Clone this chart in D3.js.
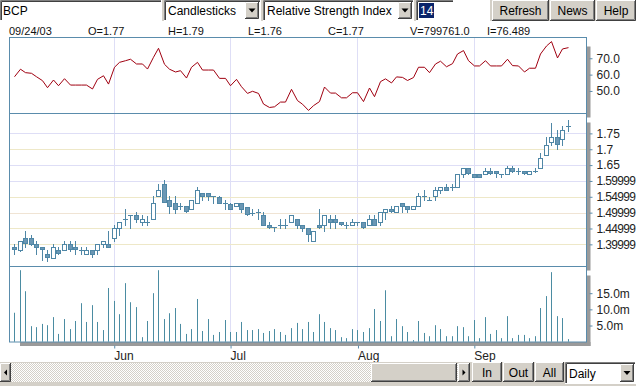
<!DOCTYPE html>
<html>
<head>
<meta charset="utf-8">
<script src="https://cdn.jsdelivr.net/npm/d3@7"></script>
<style>
  body { margin: 0; background: #fff; font-family: "Liberation Sans", Arial, sans-serif; }
  svg { display: block; }
</style>
</head>
<body>
<svg id="chart" width="636" height="386"></svg>
<script>
// ---- data ----
const symbol = "BCP";
const firstDay = new Date(2003, 4, 7);
const lastDay = new Date(2003, 8, 24);

const opens = [1.393,1.383,1.419,1.419,1.400,1.392,1.370,1.358,1.383,1.383,
  1.400,1.393,1.383,1.369,1.381,1.381,1.400,1.400,1.419,1.451,
  1.480,1.492,1.492,1.471,1.471,1.481,1.553,1.590,1.540,1.530,
  1.520,1.520,1.512,1.530,1.561,1.561,1.553,1.550,1.530,1.527,
  1.520,1.530,1.519,1.500,1.500,1.492,1.461,1.454,1.461,1.461,
  1.470,1.479,1.461,1.451,1.411,1.461,1.461,1.479,1.479,1.470,
  1.461,1.461,1.470,1.470,1.461,1.479,1.470,1.502,1.512,1.501,
  1.530,1.520,1.511,1.520,1.553,1.540,1.551,1.572,1.580,1.580,
  1.580,1.621,1.640,1.621,1.621,1.621,1.631,1.631,1.621,1.621,
  1.640,1.631,1.631,1.621,1.631,1.640,1.682,1.722,1.740,1.731,1.773];
const highs = [1.400,1.411,1.442,1.428,1.411,1.393,1.383,1.400,1.391,1.411,
  1.411,1.411,1.391,1.391,1.383,1.400,1.411,1.442,1.461,1.471,
  1.512,1.492,1.501,1.492,1.488,1.553,1.590,1.603,1.553,1.553,
  1.530,1.520,1.540,1.582,1.561,1.561,1.553,1.553,1.540,1.530,
  1.530,1.530,1.519,1.511,1.511,1.501,1.469,1.454,1.479,1.479,
  1.492,1.479,1.461,1.451,1.442,1.512,1.492,1.492,1.492,1.470,
  1.470,1.479,1.470,1.470,1.492,1.492,1.501,1.512,1.520,1.520,
  1.530,1.520,1.520,1.561,1.572,1.550,1.580,1.580,1.590,1.590,
  1.621,1.640,1.640,1.621,1.621,1.640,1.640,1.631,1.621,1.648,
  1.648,1.640,1.631,1.631,1.640,1.689,1.740,1.782,1.760,1.773,1.792];
const lows = [1.370,1.380,1.391,1.398,1.369,1.351,1.349,1.358,1.369,1.383,
  1.380,1.369,1.369,1.369,1.361,1.369,1.391,1.393,1.411,1.428,
  1.461,1.451,1.471,1.461,1.461,1.481,1.553,1.532,1.500,1.500,
  1.513,1.501,1.512,1.530,1.540,1.540,1.530,1.530,1.511,1.511,
  1.520,1.501,1.494,1.492,1.479,1.461,1.451,1.442,1.451,1.451,
  1.470,1.450,1.442,1.409,1.411,1.451,1.442,1.451,1.451,1.461,
  1.451,1.461,1.461,1.451,1.461,1.461,1.461,1.479,1.501,1.501,
  1.501,1.501,1.511,1.520,1.540,1.540,1.540,1.561,1.572,1.572,
  1.580,1.611,1.621,1.611,1.611,1.621,1.621,1.611,1.611,1.621,
  1.629,1.621,1.621,1.621,1.629,1.640,1.682,1.713,1.700,1.713,1.758];
const closes = [1.385,1.409,1.403,1.402,1.393,1.385,1.361,1.391,1.372,1.400,
  1.385,1.385,1.382,1.383,1.370,1.400,1.411,1.393,1.451,1.471,
  1.481,1.492,1.481,1.481,1.471,1.530,1.572,1.532,1.522,1.513,
  1.520,1.505,1.540,1.572,1.553,1.553,1.549,1.530,1.530,1.513,
  1.530,1.513,1.496,1.500,1.501,1.461,1.454,1.454,1.461,1.461,
  1.492,1.461,1.451,1.433,1.442,1.454,1.492,1.472,1.472,1.463,
  1.461,1.470,1.470,1.454,1.479,1.461,1.501,1.512,1.505,1.520,
  1.522,1.512,1.520,1.553,1.553,1.540,1.572,1.580,1.572,1.580,
  1.621,1.640,1.624,1.613,1.613,1.631,1.624,1.624,1.621,1.640,
  1.631,1.631,1.624,1.631,1.631,1.671,1.713,1.740,1.715,1.760,1.773];
// volume in millions
const volumes = [8.95,22.1,15.6,4.8,4.5,5.5,5.1,7.6,2.4,7.0,
  3.9,6.4,11.9,6.1,11.3,6.1,3.6,16.6,12.6,8.5,
  18.1,12.2,10.7,1.4,6.4,15.0,22.1,7.0,8.8,10.4,
  5.5,2.4,3.9,13.2,3.3,7.0,2.1,3.0,6.7,3.0,
  3.0,6.1,3.6,3.6,3.9,2.7,3.3,3.9,3.0,2.1,
  4.2,5.8,3.9,6.1,3.0,8.5,6.1,4.2,3.6,1.4,
  1.1,3.9,3.6,3.0,4.2,10.1,6.4,15.9,1.7,7.0,
  4.8,3.0,0.5,6.4,2.7,1.7,5.1,3.9,1.7,1.7,
  4.8,4.5,1.7,6.7,1.1,7.6,2.4,3.6,1.1,7.9,
  1.1,2.1,2.1,1.1,1.7,10.4,14.1,21.5,7.9,7.3,0.8];
const rsi = [58.7,63.3,61.2,60.8,58.7,56.3,52.0,56.7,53.2,57.5,
  53.6,53.6,53.6,53.6,51.2,57.1,59.3,54.2,64.5,67.5,
  68.5,69.4,66.5,66.5,63.4,70.6,76.1,66.3,63.3,61.6,
  62.4,57.9,64.5,67.5,62.8,62.8,62.8,57.7,57.7,53.2,
  57.1,52.6,48.5,49.8,48.5,42.0,39.9,40.3,43.2,43.2,
  51.0,44.1,41.9,38.1,41.0,43.5,52.4,48.7,48.7,45.8,
  45.8,48.9,48.9,43.5,51.8,46.5,55.7,57.4,54.9,58.6,
  58.3,56.4,58.2,64.5,64.5,61.2,66.5,68.2,64.8,66.7,
  72.6,74.7,68.5,65.3,65.3,68.5,65.3,65.3,65.3,69.4,
  65.5,65.3,61.6,63.9,63.9,72.6,77.5,80.2,70.2,75.7,76.5];

const rsiTicks = [70, 60, 50];
const priceTicks = [1.75, 1.7, 1.65, 1.6, 1.55, 1.5, 1.45, 1.4];
const priceTickLabels = ["1.75", "1.7", "1.65", "1.59999", "1.54999", "1.49999", "1.44999", "1.39999"];
const volumeTicks = [15, 10, 5];
const infoLabels = ["09/24/03", "O=1.77", "H=1.79", "L=1.76", "C=1.77", "V=799761.0", "I=76.489"];

// trading days (weekdays)
const dates = d3.timeDays(firstDay, d3.timeDay.offset(lastDay, 1))
  .filter(d => d.getDay() !== 0 && d.getDay() !== 6);
const monthStarts = dates.map((d, i) => i).filter(i => i > 0 && dates[i].getMonth() !== dates[i - 1].getMonth());

// ---- layout ----
const svg = d3.select("#chart");
const left = 9.5, right = 586.5;
const rsiTop = 37.5, priceTop = 113.5, volTop = 266.5, volBottom = 342;
const frameColor = "#5a8cac";
const candleColor = "#4f87a6";
const gray = "#d4d0c8";

const x = d3.scalePoint().domain(d3.range(dates.length)).range([14.7, 568.3]);
const cx = i => Math.floor(x(i)) + 0.5;

const yRsi = d3.scaleLinear().domain([36.7, 82.7]).range([112.7, 37.5]);
const yPrice = d3.scaleLinear().domain([1.3317, 1.8143]).range([266, 113]);
const yVol = d3.scaleLinear().domain([0, 23.4]).range([341.7, 266]);

// checker pattern for scrollbar track
const defs = svg.append("defs");
const pat = defs.append("pattern").attr("id", "checker").attr("width", 2).attr("height", 2)
  .attr("patternUnits", "userSpaceOnUse");
pat.append("rect").attr("width", 2).attr("height", 2).attr("fill", "#fff");
pat.append("rect").attr("width", 1).attr("height", 1).attr("fill", gray);
pat.append("rect").attr("x", 1).attr("y", 1).attr("width", 1).attr("height", 1).attr("fill", gray);

// ---- shadows of the panels ----
const shadow = "#9a9a9a";
[[rsiTop, priceTop], [priceTop, volTop], [volTop, volBottom]].forEach(([t, b]) => {
  svg.append("rect").attr("x", right).attr("y", t + 9).attr("width", 4).attr("height", b - t - 5)
    .attr("fill", shadow);
});
svg.append("rect").attr("x", 20).attr("y", volBottom).attr("width", right + 4 - 20).attr("height", 4)
  .attr("fill", shadow);

// ---- grid lines ----
const grid = svg.append("g");
monthStarts.forEach(i => {
  grid.append("line").attr("x1", cx(i)).attr("x2", cx(i)).attr("y1", rsiTop).attr("y2", volBottom)
    .attr("stroke", "#dedef6");
});
const gridColors = ["#dedef6", "#eee8c8", "#dedef6", "#dedef6", "#eee8c8", "#f0e4d4", "#eee8c8", "#eee8c8"];
priceTicks.forEach((p, i) => {
  const yy = Math.round(yPrice(p)) + 0.5;
  grid.append("line").attr("x1", left).attr("x2", right).attr("y1", yy).attr("y2", yy)
    .attr("stroke", gridColors[i]);
});

// ---- panel frames ----
const frames = svg.append("g").attr("fill", "none").attr("stroke", frameColor);
frames.append("rect").attr("x", left).attr("y", rsiTop).attr("width", right - left).attr("height", volBottom - rsiTop);
frames.append("line").attr("x1", left).attr("x2", right).attr("y1", priceTop).attr("y2", priceTop);
frames.append("line").attr("x1", left).attr("x2", right).attr("y1", volTop).attr("y2", volTop);

// ---- RSI line ----
svg.append("path")
  .datum(rsi)
  .attr("fill", "none")
  .attr("stroke", "#a00010")
  .attr("stroke-width", 1)
  .attr("d", d3.line().x((d, i) => cx(i)).y(d => yRsi(d)));

// ---- candles ----
const candles = svg.append("g").selectAll("g")
  .data(dates.map((d, i) => ({ i, o: opens[i], h: highs[i], l: lows[i], c: closes[i] })))
  .enter().append("g");

candles.append("line")
  .attr("x1", d => cx(d.i)).attr("x2", d => cx(d.i))
  .attr("y1", d => Math.round(yPrice(d.h))).attr("y2", d => Math.round(yPrice(d.l)) + 1)
  .attr("stroke", candleColor);

candles.each(function (d) {
  const g = d3.select(this);
  const top = Math.round(yPrice(Math.max(d.o, d.c)));
  const bot = Math.round(yPrice(Math.min(d.o, d.c)));
  if (bot - top < 2) {
    g.append("line")
      .attr("x1", cx(d.i) - 2.5).attr("x2", cx(d.i) + 2.5)
      .attr("y1", top + 0.5).attr("y2", top + 0.5)
      .attr("stroke", candleColor);
  } else {
    g.append("rect")
      .attr("x", cx(d.i) - 2).attr("y", top + 0.5)
      .attr("width", 4).attr("height", bot - top)
      .attr("fill", d.c < d.o ? "#6b97b4" : "#fff")
      .attr("stroke", candleColor);
  }
});

// ---- volume ----
svg.append("g").selectAll("line")
  .data(volumes)
  .enter().append("line")
  .attr("x1", (d, i) => cx(i)).attr("x2", (d, i) => cx(i))
  .attr("y1", yVol(0)).attr("y2", d => yVol(d))
  .attr("stroke", "#4b8ca2");

// ---- axes ----
function styleAxis(g) {
  g.select(".domain").remove();
  g.selectAll(".tick line").attr("stroke", frameColor);
  g.selectAll("text").attr("fill", "#222").style("font-size", "12px")
    .style("font-family", "'Liberation Sans', Arial, sans-serif");
}

svg.append("g").attr("transform", "translate(589.5,0)")
  .call(d3.axisRight(yRsi).tickValues(rsiTicks).tickSize(3).tickPadding(4).tickFormat(d3.format(".1f")))
  .call(styleAxis);

const priceAxis = svg.append("g").attr("transform", "translate(589.5,0)")
  .call(d3.axisRight(yPrice).tickValues(priceTicks).tickSize(3).tickPadding(4)
    .tickFormat((d, i) => priceTickLabels[i]))
  .call(styleAxis);
// long labels run into the window edge: squeeze them a little so they fit
priceAxis.selectAll("text").filter(t => t < 1.62).style("letter-spacing", "-0.65px");

svg.append("g").attr("transform", "translate(589.5,0)")
  .call(d3.axisRight(yVol).tickValues(volumeTicks).tickSize(3).tickPadding(4)
    .tickFormat(d => d.toFixed(1) + "m"))
  .call(styleAxis);

const xAxis = svg.append("g").attr("transform", "translate(0,345.5)")
  .call(d3.axisBottom(d3.scaleLinear().domain([0, dates.length - 1]).range([cx(0), cx(dates.length - 1)]))
    .tickValues(monthStarts).tickSize(3).tickFormat(i => d3.timeFormat("%b")(dates[i])))
  .call(styleAxis);
xAxis.selectAll("text").attr("text-anchor", "start").attr("x", -0.5).attr("dy", 0).attr("y", 14);

// ---- info row ----
const infoX = [9, 88, 168, 248, 328, 410, 487];
svg.append("g").selectAll("text")
  .data(infoLabels)
  .enter().append("text")
  .attr("x", (d, i) => infoX[i]).attr("y", 35)
  .style("font-size", "11px").attr("fill", "#111")
  .text(d => d);

// ---- toolbar ----
function bevel(g, x0, y0, w, h) {
  g.append("rect").attr("x", x0).attr("y", y0).attr("width", w).attr("height", h).attr("fill", gray);
  g.append("path").attr("d", `M${x0 + 0.5},${y0 + h}V${y0 + 0.5}H${x0 + w}`).attr("stroke", "#fff").attr("fill", "none");
  g.append("path").attr("d", `M${x0 + 1},${y0 + h - 1.5}H${x0 + w - 1.5}V${y0 + 1}`).attr("stroke", "#808080").attr("fill", "none");
  g.append("path").attr("d", `M${x0},${y0 + h - 0.5}H${x0 + w - 0.5}V${y0}`).attr("stroke", "#404040").attr("fill", "none");
}
function field(g, x0, y0, w, h) {
  g.append("rect").attr("x", x0).attr("y", y0).attr("width", w).attr("height", h).attr("fill", "#fff");
  g.append("path").attr("d", `M${x0 + 0.5},${y0 + h}V${y0 + 0.5}H${x0 + w}`).attr("stroke", "#808080").attr("fill", "none");
  g.append("path").attr("d", `M${x0 + 1.5},${y0 + h - 1}V${y0 + 1.5}H${x0 + w - 1}`).attr("stroke", "#404040").attr("fill", "none");
  g.append("path").attr("d", `M${x0},${y0 + h - 0.5}H${x0 + w - 0.5}V${y0}`).attr("stroke", "#fff").attr("fill", "none");
}
function arrowButton(g, x0, y0, w, h, dir) {
  bevel(g, x0, y0, w, h);
  const mx = x0 + w / 2, my = y0 + h / 2;
  const d = dir === "down" ? `M${mx - 3.5},${my - 2}H${mx + 3.5}L${mx},${my + 2}Z`
    : dir === "left" ? `M${mx + 1.5},${my - 3}V${my + 3}L${mx - 1.5},${my}Z`
    : `M${mx - 1.5},${my - 3}V${my + 3}L${mx + 1.5},${my}Z`;
  g.append("path").attr("d", d).attr("fill", "#000");
}
function label(g, x0, y0, txt, anchor) {
  g.append("text").attr("x", x0).attr("y", y0).attr("text-anchor", anchor || "start")
    .style("font-size", "12px").attr("fill", "#000").text(txt);
}

const bar = svg.append("g");
bar.append("rect").attr("width", 636).attr("height", 21).attr("fill", gray);
field(bar, 0, 0, 162, 21);
label(bar, 3, 15, symbol);
field(bar, 164, 0, 97, 21);
label(bar, 168, 15, "Candlesticks");
arrowButton(bar, 245, 2, 14, 17, "down");
field(bar, 263, 0, 151, 21);
label(bar, 267, 15, "Relative Strength Index");
arrowButton(bar, 398, 2, 14, 17, "down");
field(bar, 416, 0, 38, 21);
bar.append("rect").attr("x", 419).attr("y", 3).attr("width", 15).attr("height", 15).attr("fill", "#0a246a");
bar.append("text").attr("x", 420).attr("y", 15).style("font-size", "12px").attr("fill", "#fff").text("14");
bar.append("rect").attr("x", 454).attr("y", 0).attr("width", 36).attr("height", 21).attr("fill", "#fff");
[["Refresh", 492, 57], ["News", 550, 45], ["Help", 596, 40]].forEach(([t, bx, bw]) => {
  bevel(bar, bx, 0, bw, 21);
  label(bar, bx + bw / 2, 15, t, "middle");
});

// ---- bottom bar ----
const bottom = svg.append("g");
bottom.append("rect").attr("y", 362).attr("width", 636).attr("height", 24).attr("fill", gray);
bottom.append("rect").attr("x", 0).attr("y", 363).attr("width", 470).attr("height", 19).attr("fill", "url(#checker)");
arrowButton(bottom, 0, 363, 11, 19, "left");
bevel(bottom, 371, 363, 86, 19);
arrowButton(bottom, 458, 363, 12, 19, "right");
[["In", 472, 30], ["Out", 503, 31], ["All", 535, 29]].forEach(([t, bx, bw]) => {
  bevel(bottom, bx, 362, bw, 20);
  label(bottom, bx + bw / 2, 377, t, "middle");
});
field(bottom, 565, 362, 71, 22);
label(bottom, 569, 378, "Daily");
arrowButton(bottom, 620, 364, 14, 18, "down");
</script>
</body>
</html>
